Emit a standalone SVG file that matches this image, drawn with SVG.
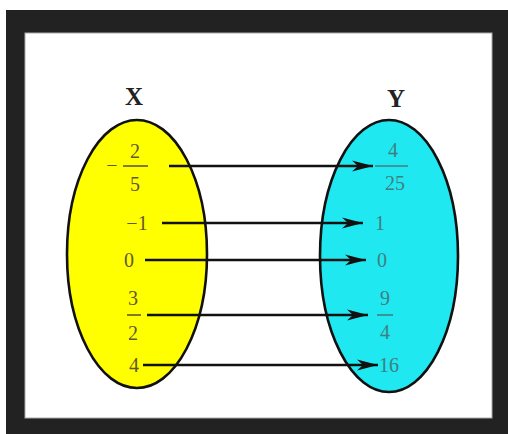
<svg xmlns="http://www.w3.org/2000/svg" width="508" height="434" viewBox="0 0 508 434">
<defs>
<style>
.lbl{font-family:"Liberation Serif","Times New Roman",serif;font-size:20px;text-anchor:middle}
.ly{fill:#5e5a2e}
.lc{fill:#3f7f80}
.hd{font-family:"Liberation Serif","Times New Roman",serif;font-size:25px;font-weight:bold;text-anchor:middle;fill:#222}
.bar{stroke-width:1.6}
.conn{stroke:#111;stroke-width:2.6;fill:none;marker-end:url(#ah)}
.ell{stroke:#111;stroke-width:2.6}
</style>
<marker id="ah" markerUnits="userSpaceOnUse" markerWidth="22" markerHeight="12" refX="21" refY="6" orient="auto">
<path d="M0,0.5 L21,6 L0,11.5 L6,6 Z" fill="#111"/>
</marker>
</defs>
<rect x="6" y="10" width="502" height="424" fill="#222"/>
<rect x="25" y="33" width="467" height="385" fill="#fff" stroke="#aaa" stroke-width="1"/>

<g id="setX">
<ellipse class="ell" cx="137" cy="254" rx="70" ry="134" fill="#ffff00"/>
<text class="hd" x="134" y="105">X</text>
</g>
<g id="setY">
<ellipse class="ell" cx="389" cy="256" rx="69" ry="136" fill="#1fe8f0"/>
<text class="hd" x="396" y="107">Y</text>
</g>

<g id="x-neg2-5">
<text class="lbl ly" x="112" y="172">−</text>
<text class="lbl ly" x="135" y="158">2</text>
<line class="bar" x1="123" y1="166" x2="148" y2="166" stroke="#5e5a2e"/>
<text class="lbl ly" x="135" y="191">5</text>
</g>
<g id="x-neg1"><text class="lbl ly" x="137" y="230">−1</text></g>
<g id="x-0"><text class="lbl ly" x="129" y="267">0</text></g>
<g id="x-3-2">
<text class="lbl ly" x="133" y="305">3</text>
<line class="bar" x1="127" y1="315" x2="141" y2="315" stroke="#5e5a2e"/>
<text class="lbl ly" x="133" y="340">2</text>
</g>
<g id="x-4"><text class="lbl ly" x="134" y="372">4</text></g>

<g id="y-4-25">
<text class="lbl lc" x="393" y="157">4</text>
<line class="bar" x1="375" y1="166" x2="408" y2="166" stroke="#3f7f80"/>
<text class="lbl lc" x="395" y="190">25</text>
</g>
<g id="y-1"><text class="lbl lc" x="380" y="230">1</text></g>
<g id="y-0"><text class="lbl lc" x="382" y="267">0</text></g>
<g id="y-9-4">
<text class="lbl lc" x="385" y="305">9</text>
<line class="bar" x1="377" y1="315" x2="393" y2="315" stroke="#3f7f80"/>
<text class="lbl lc" x="385" y="339">4</text>
</g>
<g id="y-16"><text class="lbl lc" x="389" y="372">16</text></g>

<g id="connectors">
<line class="conn" x1="169" y1="166" x2="373" y2="166"/>
<line class="conn" x1="162" y1="223" x2="363" y2="223"/>
<line class="conn" x1="145" y1="260" x2="366" y2="260"/>
<line class="conn" x1="147" y1="315" x2="368" y2="315"/>
<line class="conn" x1="143" y1="365" x2="378" y2="365"/>
</g>
</svg>
